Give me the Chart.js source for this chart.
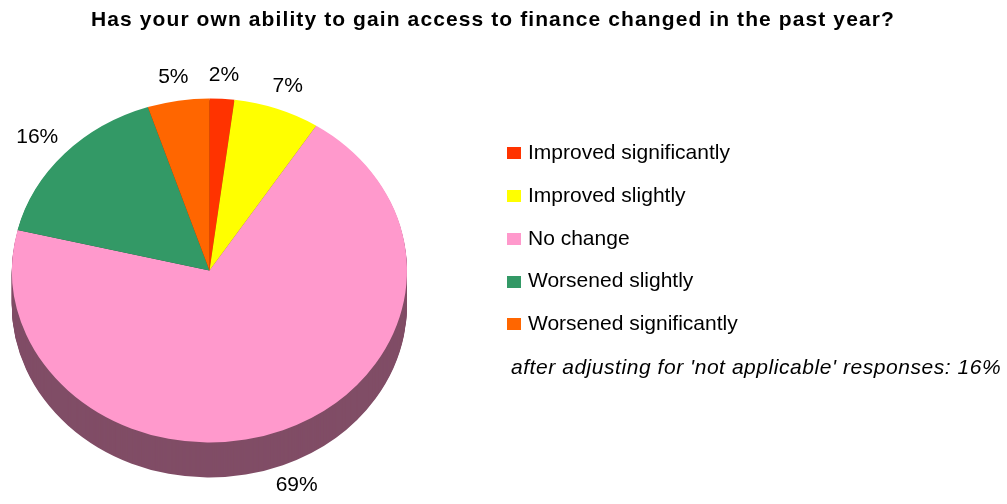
<!DOCTYPE html>
<html>
<head>
<meta charset="utf-8">
<title>Access to finance</title>
<script src="https://cdn.jsdelivr.net/npm/chart.js@4.4.1/dist/chart.umd.min.js"></script>
<style>
  body { margin: 0; background: #fff; font-family: "Liberation Sans", Arial, sans-serif; color: #000; }
  #wrap { position: relative; width: 1007px; height: 504px; overflow: hidden; }
  #pie { position: absolute; left: 0; top: 0; }
  .txt { position: absolute; white-space: nowrap; font-size: 21px; line-height: 21px; }
  #title { left: 91px; top: 8px; font-weight: bold; letter-spacing: 1.1px; }
  .key { position: absolute; width: 14px; height: 12px; }
  #note { font-style: italic; letter-spacing: 0.55px; }
</style>
</head>
<body>
<div id="wrap">
  <canvas id="pie" width="1007" height="504"></canvas>
  <div id="title" class="txt">Has your own ability to gain access to finance changed in the past year?</div>
  <div id="legend"></div>
  <div id="note" class="txt"></div>
</div>
<script>
// Survey answers, clockwise from 12 o'clock
const categories = ['Improved significantly', 'Improved slightly', 'No change', 'Worsened slightly', 'Worsened significantly'];
const shares = [2, 7, 69, 16, 5];
const sliceColors = ['#FF3300', '#FFFF00', '#FF99CC', '#339966', '#FF6600'];
const noteText = "after adjusting for 'not applicable' responses: 16%";

const TILT = 0.871;   // vertical squash of the pie top
const DEPTH = 35;     // thickness of the pie, px
const FONT = '21px "Liberation Sans", Arial, sans-serif';

function shade(hex, f) {
  const n = parseInt(hex.slice(1), 16);
  const r = Math.round(((n >> 16) & 255) * f);
  const g = Math.round(((n >> 8) & 255) * f);
  const b = Math.round((n & 255) * f);
  return `rgb(${r},${g},${b})`;
}

function squash(ctx, cx, cy, dy) {
  ctx.translate(cx, cy + dy);
  ctx.scale(1, TILT);
  ctx.translate(-cx, -cy);
}

// draws the side wall, flattens the top face and places the % labels
const pie3d = {
  id: 'pie3d',
  beforeDatasetsDraw(chart) {
    const ctx = chart.ctx;
    const arcs = chart.getDatasetMeta(0).data;
    const { x: cx, y: cy } = arcs[0];
    for (let d = DEPTH; d > 0; d--) {
      ctx.save();
      squash(ctx, cx, cy, d);
      arcs.forEach((arc, i) => {
        const side = Object.create(arc);
        side.options = Object.assign({}, arc.options, { backgroundColor: shade(sliceColors[i], 0.5) });
        arc.draw.call(side, ctx);
      });
      ctx.restore();
    }
    ctx.save();
    squash(ctx, cx, cy, 0);
  },
  afterDatasetsDraw(chart) {
    const ctx = chart.ctx;
    ctx.restore();
    const arcs = chart.getDatasetMeta(0).data;
    ctx.save();
    ctx.font = FONT;
    ctx.fillStyle = '#000';
    ctx.textAlign = 'center';
    ctx.textBaseline = 'middle';
    arcs.forEach((arc, i) => {
      const { x, y, startAngle, endAngle, outerRadius } = arc.getProps(['x', 'y', 'startAngle', 'endAngle', 'outerRadius'], true);
      const mid = (startAngle + endAngle) / 2;
      const ux = Math.cos(mid), uy = Math.sin(mid);
      const text = shares[i] + '%';
      const halfW = ctx.measureText(text).width / 2;
      const r = outerRadius + 16;
      const px = x + r * ux + halfW * ux;
      const py = y + r * uy * TILT + 10 * uy + (uy > 0 ? DEPTH * uy : 0);
      ctx.fillText(text, px, py);
    });
    ctx.restore();
  }
};

new Chart(document.getElementById('pie'), {
  type: 'pie',
  data: {
    labels: categories,
    datasets: [{
      data: shares,
      backgroundColor: sliceColors,
      borderWidth: 0,
      hoverOffset: 0
    }]
  },
  options: {
    responsive: false,
    animation: false,
    events: [],
    layout: { padding: { left: 12, right: 600, top: 73, bottom: 36 } },
    plugins: {
      legend: { display: false },
      title: { display: false },
      tooltip: { enabled: false }
    }
  },
  plugins: [pie3d]
});

// legend rows on the right
const legend = document.getElementById('legend');
const firstBaseline = 158.7, rowGap = 42.8, ascent = 17.8;
categories.forEach((name, i) => {
  const base = firstBaseline + i * rowGap;
  const key = document.createElement('div');
  key.className = 'key';
  key.style.left = '507px';
  key.style.top = (base - 11.5) + 'px';
  key.style.background = sliceColors[i];
  legend.appendChild(key);
  const label = document.createElement('div');
  label.className = 'txt';
  label.style.left = '528px';
  label.style.top = (base - ascent) + 'px';
  label.textContent = name;
  legend.appendChild(label);
});
const note = document.getElementById('note');
note.textContent = noteText;
note.style.left = '511px';
note.style.top = (374 - ascent) + 'px';
</script>
</body>
</html>
